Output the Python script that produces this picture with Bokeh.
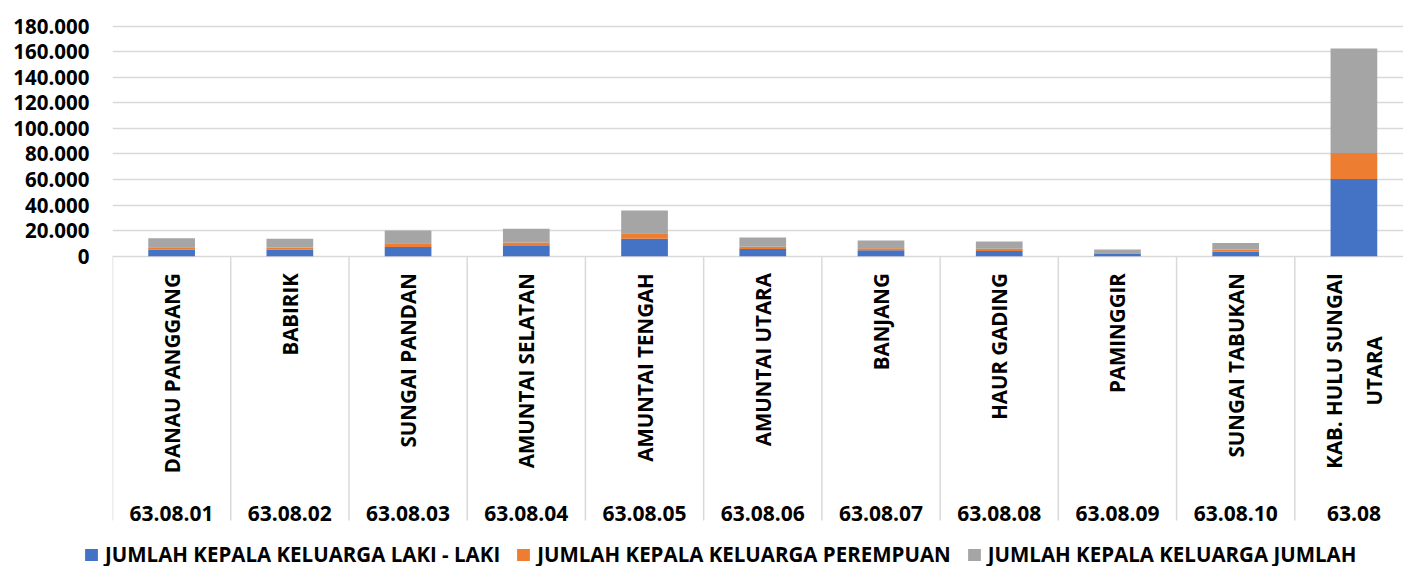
import math
from bokeh.plotting import figure
from bokeh.models import ColumnDataSource, Range1d, FixedTicker, Legend, LegendItem
from bokeh.core.properties import value
from bokeh.embed import file_html
from bokeh.resources import INLINE

# ---------------- data ----------------
codes = ["63.08.01", "63.08.02", "63.08.03", "63.08.04", "63.08.05", "63.08.06",
         "63.08.07", "63.08.08", "63.08.09", "63.08.10", "63.08"]
names = ["DANAU PANGGANG", "BABIRIK", "SUNGAI PANDAN", "AMUNTAI SELATAN",
         "AMUNTAI TENGAH", "AMUNTAI UTARA", "BANJANG", "HAUR GADING",
         "PAMINGGIR", "SUNGAI TABUKAN", "KAB. HULU SUNGAI\nUTARA"]
laki = [5200, 5100, 7200, 8000, 13600, 5600, 4700, 4100, 1950, 3400, 60400]
perempuan = [1850, 1700, 2900, 2700, 4300, 1700, 1450, 1650, 650, 1800, 20400]
jumlah = [7050, 6800, 10100, 10700, 17900, 7300, 6150, 5750, 2600, 5200, 81800]
series_keys = ["laki", "perempuan", "jumlah"]
series_labels = ["JUMLAH KEPALA KELUARGA LAKI - LAKI",
                 "JUMLAH KEPALA KELUARGA PEREMPUAN",
                 "JUMLAH KEPALA KELUARGA JUMLAH"]
colors = ["#4472C4", "#ED7D31", "#A5A5A5"]
y_ticks = [0, 20000, 40000, 60000, 80000, 100000, 120000, 140000, 160000, 180000]
y_tick_labels = ["0", "20.000", "40.000", "60.000", "80.000", "100.000",
                 "120.000", "140.000", "160.000", "180.000"]

# ---------------- layout (screen px) ----------------
FONT = "Open Sans"
FRAME_LEFT, FRAME_TOP = 112, 18
FRAME_W, FRAME_H = 1291, 512
FRAME_BOTTOM = FRAME_TOP + FRAME_H
ZERO_PX = 255.7
UPP = 180000 / (255.7 - 25.7)       # data units per px
PX_PER_CAT = 118.23
LEGEND_H = 36


def px_to_y(py):
    return (ZERO_PX - py) * UPP


n = len(codes)
xs = list(range(n))
src = ColumnDataSource(dict(x=xs, laki=laki, perempuan=perempuan, jumlah=jumlah,
                            name=names, code=codes))

p = figure(frame_width=FRAME_W, frame_height=FRAME_H,
           x_range=Range1d(-0.5, -0.5 + FRAME_W / PX_PER_CAT),
           y_range=Range1d(px_to_y(FRAME_BOTTOM), px_to_y(FRAME_TOP)),
           x_axis_location=None,
           output_backend="svg", toolbar_location=None,
           min_border_left=FRAME_LEFT, min_border_right=0, min_border_top=FRAME_TOP,
           min_border_bottom=0)
p.outline_line_color = None
p.background_fill_color = "white"
p.border_fill_color = "white"

# y axis
p.yaxis.ticker = FixedTicker(ticks=y_ticks)
p.yaxis.major_label_overrides = {t: l for t, l in zip(y_ticks, y_tick_labels)}
p.yaxis.axis_line_color = None
p.yaxis.major_tick_line_color = None
p.yaxis.minor_tick_line_color = None
p.yaxis.major_tick_out = 0
p.yaxis.major_tick_in = 0
p.yaxis.major_label_standoff = 23
p.yaxis.major_label_text_font = FONT
p.yaxis.major_label_text_font_style = "bold"
p.yaxis.major_label_text_font_size = "20.5px"
p.yaxis.major_label_text_color = "black"
p.ygrid.grid_line_color = "#d9d9d9"
p.ygrid.grid_line_width = 1.5
p.xgrid.visible = False

# separators of the category axis
bounds = [i - 0.5 for i in range(n + 1)]
p.segment(x0=bounds, x1=bounds, y0=[0] * len(bounds), y1=[px_to_y(520)] * len(bounds),
          line_color="#d9d9d9", line_width=1.5)

# stacked bars
renderers = p.vbar_stack(series_keys, x="x", width=0.395, color=colors,
                         line_color=None, source=src)

# category names (rotated) and codes
p.text(x="x", y=px_to_y(272.7), text="name", source=src, angle=math.pi / 2,
       anchor="center_right", text_align="center", text_baseline="middle",
       text_font=value(FONT), text_font_style="bold", text_font_size="20.5px",
       text_line_height=1.45, text_color="black")
p.text(x="x", y=px_to_y(513.3), text="code", source=src,
       text_align="center", text_baseline="alphabetic",
       text_font=value(FONT), text_font_style="bold", text_font_size="21px",
       text_color="black")

# ---------------- legend strip (separate root, frame spans full width) ----------------
leg = figure(width=FRAME_LEFT + FRAME_W, height=LEGEND_H,
             x_range=Range1d(0, 1), y_range=Range1d(0, 1),
             x_axis_location=None, y_axis_location=None,
             output_backend="svg", toolbar_location=None,
             min_border_left=0, min_border_right=0, min_border_top=0,
             min_border_bottom=0)
leg.outline_line_color = None
leg.xgrid.visible = False
leg.ygrid.visible = False
# one zero-height bar per series (invisible), only to give the legend its swatches
dummy = ColumnDataSource(dict(x=[0.5], top=[0]))
leg_renderers = [leg.vbar(x="x", top="top", width=0.01, color=c, line_color=None,
                          source=dummy) for c in colors]
legend = Legend(items=[LegendItem(label=l, renderers=[r])
                       for l, r in zip(series_labels, leg_renderers)],
                orientation="horizontal", location=(83, -2),
                label_text_font=FONT, label_text_font_style="bold",
                label_text_font_size="20.5px", label_text_color="black",
                glyph_width=16, glyph_height=15, label_standoff=6, spacing=15,
                padding=0, margin=0, border_line_color=None,
                background_fill_alpha=0)
leg.add_layout(legend, "center")

open("out.html", "w").write(file_html([p, leg], INLINE))
